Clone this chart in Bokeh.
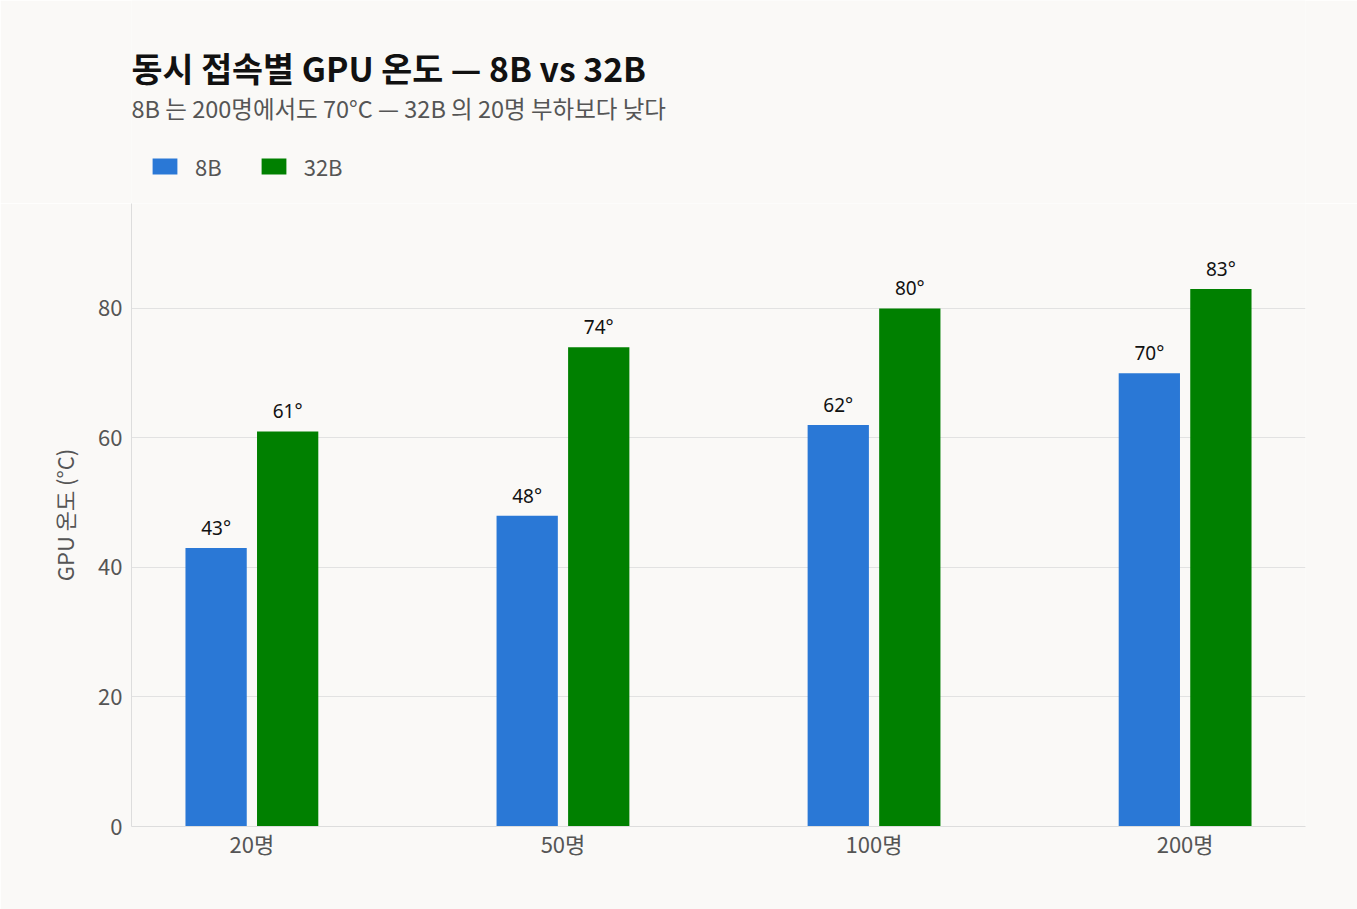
from bokeh.plotting import figure
from bokeh.models import (ColumnDataSource, Legend, LegendItem, Range1d,
                          FixedTicker, LabelSet, Label)
from bokeh.layouts import column
from bokeh.core.properties import value
from bokeh.embed import file_html
from bokeh.resources import INLINE

categories = ["20명", "50명", "100명", "200명"]
temp_8b = [43, 48, 62, 70]
temp_32b = [61, 74, 80, 83]
series_names = ["8B", "32B"]
y_ticks = [0, 20, 40, 60, 80]

BG = "#faf9f7"
BLUE = "#2a78d6"
GREEN = "#008000"
FONT = "Noto Sans CJK KR"

W, H_TOP, H_MAIN = 1357, 203, 706
ML, MR = 131, 52
xs = list(range(len(categories)))
off = 0.115
bw = 0.197

# ---------------- header figure (title, subtitle, legend) ----------------
top = figure(width=W, height=H_TOP, output_backend="svg", toolbar_location=None,
             x_range=Range1d(0, 1), y_range=Range1d(0, 1),
             x_axis_location=None, y_axis_location=None,
             min_border_left=ML, min_border_right=MR, min_border_top=0,
             min_border_bottom=0)
top.title = None
top.background_fill_color = BG
top.border_fill_color = BG
top.outline_line_color = None
top.grid.visible = False

# legend swatches (kept outside the visible header range)
lg8 = top.vbar(x=[-5], top=[-5], width=0.1, color=BLUE, line_color=None)
lg32 = top.vbar(x=[-5], top=[-5], width=0.1, color=GREEN, line_color=None)

legend = Legend(items=[LegendItem(label=series_names[0], renderers=[lg8]),
                       LegendItem(label=series_names[1], renderers=[lg32])],
                orientation="horizontal", location=(18, 21),
                background_fill_alpha=0, border_line_color=None,
                padding=0, margin=0, spacing=36, label_standoff=15,
                glyph_width=31, glyph_height=20,
                label_text_font=FONT, label_text_font_size="22px",
                label_text_color="#555555")
top.add_layout(legend, "center")

top.add_layout(Label(x=0, y=H_TOP - 82 + 15, x_units="screen", y_units="screen",
                     text="동시 접속별 GPU 온도 — 8B vs 32B", text_font=FONT,
                     text_font_size="33.7px", text_font_style="bold",
                     text_color="#111111", text_baseline="alphabetic"))
top.add_layout(Label(x=0, y=H_TOP - 118 + 11, x_units="screen", y_units="screen",
                     text="8B 는 200명에서도 70°C — 32B 의 20명 부하보다 낮다",
                     text_font=FONT, text_font_size="23.5px",
                     text_color="#555555", text_baseline="alphabetic"))

# ---------------- main chart ----------------
src8 = ColumnDataSource(dict(x=[i - off for i in xs], y=temp_8b,
                             lab=[f"{v}°" for v in temp_8b]))
src32 = ColumnDataSource(dict(x=[i + off for i in xs], y=temp_32b,
                              lab=[f"{v}°" for v in temp_32b]))

p = figure(width=W, height=H_MAIN, output_backend="svg", toolbar_location=None,
           x_range=Range1d(-0.387, 3.387), y_range=Range1d(0, 96.2),
           min_border_left=ML, min_border_right=MR, min_border_bottom=83,
           min_border_top=0)
p.title = None
p.background_fill_color = BG
p.border_fill_color = BG
p.outline_line_color = None

p.vbar(x="x", top="y", width=bw, source=src8, color=BLUE, line_color=None)
p.vbar(x="x", top="y", width=bw, source=src32, color=GREEN, line_color=None)

for s in (src8, src32):
    p.add_layout(LabelSet(x="x", y="y", text="lab", source=s, text_align="center",
                          text_baseline="alphabetic", y_offset=13,
                          text_font=value("Noto Sans"),
                          text_font_size=value("19px"), text_color="#111111"))

p.xaxis.ticker = FixedTicker(ticks=xs)
p.xaxis.major_label_overrides = {i: c for i, c in zip(xs, categories)}
p.yaxis.ticker = FixedTicker(ticks=y_ticks)
for ax in (p.xaxis[0], p.yaxis[0]):
    ax.major_tick_line_color = None
    ax.minor_tick_line_color = None
    ax.major_tick_out = 0
    ax.major_tick_in = 0
    ax.minor_tick_out = 0
    ax.major_label_text_font = FONT
    ax.major_label_text_font_size = "22px"
    ax.major_label_text_color = "#555555"
    ax.axis_line_color = "#dddddd"
p.xaxis.major_label_standoff = 0
p.yaxis.major_label_standoff = 9
p.yaxis.axis_label = "GPU 온도 (°C)"
p.yaxis.axis_label_text_font = FONT
p.yaxis.axis_label_text_font_size = "22px"
p.yaxis.axis_label_text_font_style = "normal"
p.yaxis.axis_label_text_color = "#555555"
p.yaxis.axis_label_standoff = 15

p.xgrid.grid_line_color = None
p.ygrid.grid_line_color = "#e2e2e2"
p.ygrid.grid_line_width = 1

layout = column(top, p, spacing=0)
html = file_html(layout, INLINE)
html = html.replace("<body>", '<body style="background:#faf9f7">', 1)
open("out.html", "w").write(html)
